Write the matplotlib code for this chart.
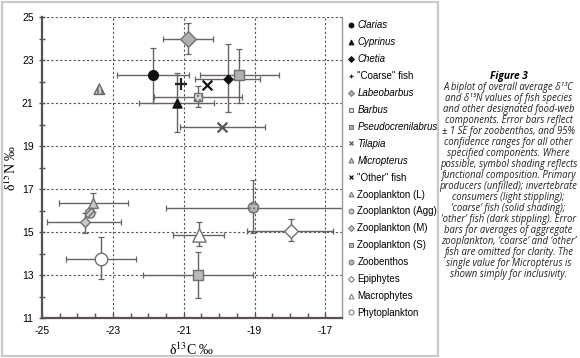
import matplotlib
matplotlib.use("Agg")
import matplotlib.pyplot as plt
import numpy as np
from matplotlib.lines import Line2D
from matplotlib.patches import Rectangle

plt.rcParams['mathtext.fontset'] = 'stix'

# ---------------- data ----------------
names = ["Clarias", "Cyprinus", "Chetia", '"Coarse" fish', "Labeobarbus", "Barbus",
         "Pseudocrenilabrus", "Tilapia", "Micropterus", '"Other" fish',
         "Zooplankton (L)", "Zooplankton (Agg)", "Zooplankton (M)", "Zooplankton (S)",
         "Zoobenthos", "Epiphytes", "Macrophytes", "Phytoplankton"]
italic_names = ["Clarias", "Cyprinus", "Chetia", "Labeobarbus", "Barbus",
                "Pseudocrenilabrus", "Tilapia", "Micropterus"]
d13c = [-21.86, -21.19, -19.75, -21.07, -20.87, -20.60, -19.43, -19.92, -23.38, -20.35,
        -23.55, -23.64, -23.80, -20.59, -19.03, -17.97, -20.56, -23.33]
d15n = [22.29, 20.98, 22.13, 21.88, 23.98, 21.29, 22.29, 19.90, 21.64, 21.85,
        16.36, 15.87, 15.45, 12.98, 16.13, 15.06, 14.86, 13.74]
nan = np.nan
c_lo = [-22.87, -22.25, -20.68, nan, -21.58, -21.83, -20.54, -21.10, nan, nan,
        -24.52, nan, -24.85, -22.14, -21.50, -19.22, -21.29, -24.33]
c_hi = [-20.84, -20.13, -18.84, nan, -20.18, -19.34, -18.32, -18.70, nan, nan,
        -22.58, nan, -22.77, -19.03, -16.30, -16.77, -19.86, -22.34]
n_lo = [20.99, 19.67, 20.60, nan, 23.27, 20.83, 21.00, nan, nan, nan,
        15.95, nan, 14.97, 11.92, 14.95, 14.58, 14.35, 12.80]
n_hi = [23.54, 22.38, 23.74, nan, 24.70, 21.79, 23.50, nan, nan, nan,
        16.80, nan, 15.90, 14.06, 17.42, 15.60, 15.45, 14.78]

xticks = [-25, -23, -21, -19, -17]
yticks = [11, 13, 15, 17, 19, 21, 23, 25]

# ---------------- styles ----------------
styles = {
    "Clarias":            dict(marker='o', fc='#111111', ec='#111111', ms=7, hatch=None),
    "Cyprinus":           dict(marker='^', fc='#111111', ec='#111111', ms=6.5, hatch=None),
    "Chetia":             dict(marker='D', fc='#111111', ec='#111111', ms=4.5, hatch=None),
    '"Coarse" fish':      dict(marker='+', fc='#222222', ec='#222222', ms=8, hatch=None),
    "Labeobarbus":        dict(marker='D', fc='#b0b0b0', ec='#707070', ms=8, hatch=None),
    "Barbus":             dict(marker='s', fc='#d8d8d8', ec='#707070', ms=6, hatch='....'),
    "Pseudocrenilabrus":  dict(marker='s', fc='#b0b0b0', ec='#707070', ms=7, hatch=None),
    "Tilapia":            dict(marker='x', fc='#555555', ec='#555555', ms=7, hatch=None),
    "Micropterus":        dict(marker='^', fc='#d0d0d0', ec='#666666', ms=7.5, hatch='||||'),
    '"Other" fish':       dict(marker='x', fc='#111111', ec='#111111', ms=7, hatch=None),
    "Zooplankton (L)":    dict(marker='^', fc='#c8c8c8', ec='#707070', ms=7, hatch=None),
    "Zooplankton (Agg)":  dict(marker='o', fc='#c8c8c8', ec='#707070', ms=7, hatch='//////'),
    "Zooplankton (M)":    dict(marker='D', fc='#c8c8c8', ec='#707070', ms=5, hatch=None),
    "Zooplankton (S)":    dict(marker='s', fc='#b8b8b8', ec='#707070', ms=6.5, hatch=None),
    "Zoobenthos":         dict(marker='o', fc='#b8b8b8', ec='#707070', ms=7.5, hatch='....'),
    "Epiphytes":          dict(marker='D', fc='white', ec='#707070', ms=7, hatch=None),
    "Macrophytes":        dict(marker='^', fc='white', ec='#707070', ms=9.5, hatch=None),
    "Phytoplankton":      dict(marker='o', fc='white', ec='#707070', ms=9, hatch=None),
}

ERR_C = '#6a6262'

fig = plt.figure(figsize=(5.8, 3.58), dpi=100)
fig.patch.set_facecolor('white')

# outer light frame around chart region
fig.patches.append(Rectangle((2/580, 2/358), 436/580, 354/358, transform=fig.transFigure,
                             fill=False, ec='#c9c9c9', lw=1.6, zorder=0))

ax = fig.add_axes([42/580, 1 - 318/358, 300/580, 301/358])
ax.set_xlim(-25, -16.53)
ax.set_ylim(11, 25)

# grid
for xv in xticks[1:]:
    ax.axvline(xv, color='#555555', lw=0.8, ls=(0, (2, 2)), zorder=0)
for yv in yticks[1:]:
    ax.axhline(yv, color='#555555', lw=0.8, ls=(0, (2, 2)), zorder=0)

for i, nm in enumerate(names):
    x, y = d13c[i], d15n[i]
    if not np.isnan(c_lo[i]):
        ax.errorbar([x], [y], xerr=[[x - c_lo[i]], [c_hi[i] - x]], fmt='none',
                    ecolor=ERR_C, elinewidth=1.0, capsize=2.2, capthick=0.9, zorder=2)
    if not np.isnan(n_lo[i]):
        ax.errorbar([x], [y], yerr=[[y - n_lo[i]], [n_hi[i] - y]], fmt='none',
                    ecolor=ERR_C, elinewidth=1.0, capsize=2.2, capthick=0.9, zorder=2)
    st = styles[nm]
    if st['marker'] in ('x', '+'):
        ax.scatter([x], [y], marker=st['marker'], s=st['ms'] ** 2, c=st['fc'],
                   linewidths=1.6, zorder=3)
    else:
        kw = {}
        if st['hatch']:
            kw['hatch'] = st['hatch']
        ax.scatter([x], [y], marker=st['marker'], s=st['ms'] ** 2, facecolors=st['fc'],
                   edgecolors=st['ec'], linewidths=1.0, zorder=3, **kw)

# spines & ticks
ax.spines['top'].set_visible(False)
ax.spines['right'].set_color('#9a9a9a')
ax.spines['right'].set_linewidth(1.0)
for s in ['left', 'bottom']:
    ax.spines[s].set_color('#5a5050')
    ax.spines[s].set_linewidth(1.6)

ax.set_xticks(xticks)
ax.set_xticks(np.arange(-25, -16.5, 0.5), minor=True)
ax.set_yticks(yticks)
ax.set_yticks(np.arange(11, 25.01, 1), minor=True)
ax.set_xticklabels([str(v) for v in xticks], fontsize=7.5, family='Liberation Sans')
ax.set_yticklabels([str(v) for v in yticks], fontsize=7.5, family='Liberation Sans')
ax.tick_params(axis='x', which='both', direction='in', length=3.5, width=1.0,
               color='#5a5050', pad=6)
ax.tick_params(axis='y', which='both', direction='inout', length=4, width=1.0,
               color='#5a5050', pad=4)

ax.set_xlabel(r'δ$^{13}$C ‰', fontsize=10, family='Liberation Serif', labelpad=4)
ax.set_ylabel(r'δ$^{15}$N ‰', fontsize=10, family='Liberation Serif', labelpad=2)

# legend
handles = []
for nm in names:
    st = styles[nm]
    if st['marker'] in ('x', '+'):
        h = Line2D([], [], ls='none', marker=st['marker'], color=st['fc'], ms=3.5, mew=0.9)
    else:
        h = Line2D([], [], ls='none', marker=st['marker'], mfc=st['fc'], mec=st['ec'],
                   ms=3.5 if st['marker'] != 'D' else 3, mew=0.7)
    handles.append(h)
leg = fig.legend(handles, names, loc='upper left', bbox_to_anchor=(349/580, 1 - 20.5/358),
                 frameon=False, prop={'family': 'Liberation Sans', 'size': 7.0},
                 handlelength=0.5, handletextpad=0.35, labelspacing=0.71,
                 borderpad=0, borderaxespad=0)
for t in leg.get_texts():
    if t.get_text() in italic_names:
        t.set_fontstyle('italic')

# caption
cx = 508.5 / 580
fig.text(cx, 1 - 76/358, 'Figure 3', ha='center', va='center', fontsize=7.3,
         fontweight='bold', fontstyle='italic', family=['Open Sans', 'DejaVu Sans'])
caption = ("A biplot of overall average δ¹³C\n"
           "and δ¹⁵N values of fish species\n"
           "and other designated food-web\n"
           "components. Error bars reflect\n"
           "± 1 SE for zoobenthos, and 95%\n"
           "confidence ranges for all other\n"
           "specified components. Where\n"
           "possible, symbol shading reflects\n"
           "functional composition. Primary\n"
           "producers (unfilled); invertebrate\n"
           "consumers (light stippling);\n"
           "‘coarse’ fish (solid shading);\n"
           "‘other’ fish (dark stippling). Error\n"
           "bars for averages of aggregate\n"
           "zooplankton, ‘coarse’ and ‘other’\n"
           "fish are omitted for clarity. The\n"
           "single value for Micropterus is\n"
           "shown simply for inclusivity.")
fig.text(cx, 1 - 82/358, caption, ha='center', va='top', fontsize=6.85,
         fontstyle='italic', family=['Open Sans', 'DejaVu Sans'], linespacing=1.0,
         color='#222222')

fig.savefig('out.png', dpi=100)
